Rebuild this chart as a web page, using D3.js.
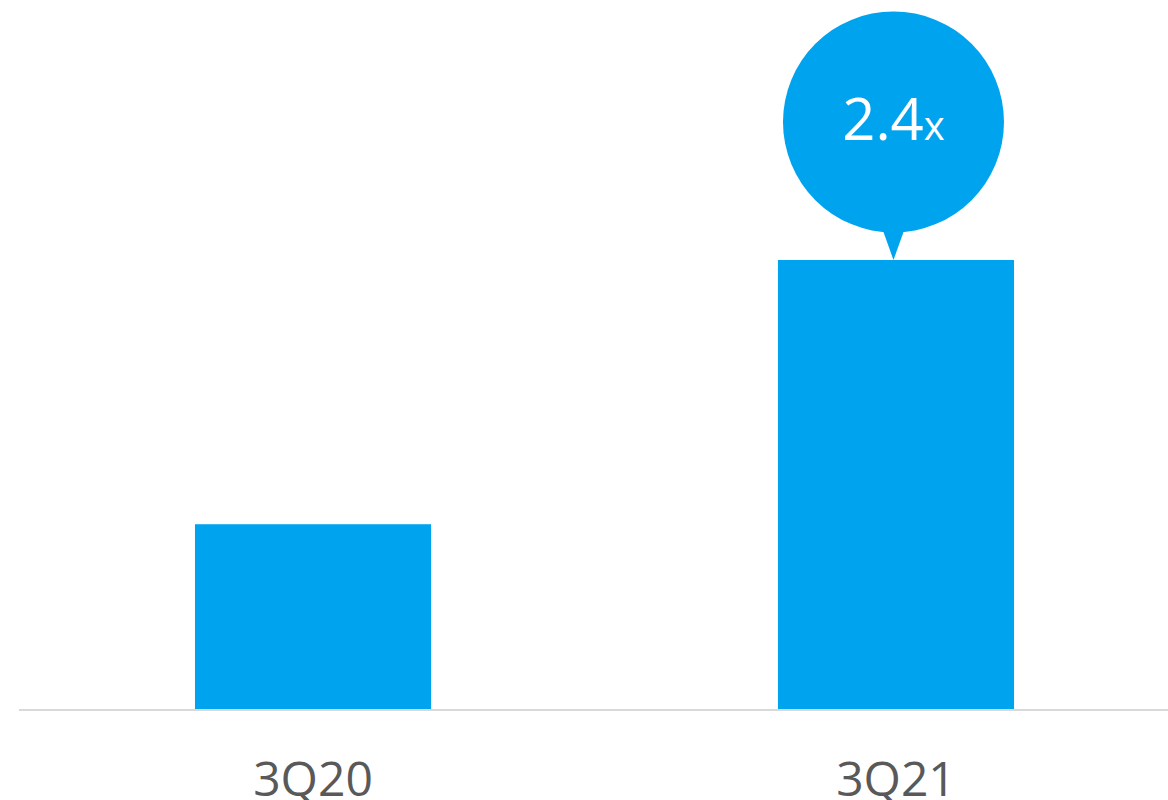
<!DOCTYPE html>
<html>
<head>
<meta charset="utf-8">
<script src="https://cdn.jsdelivr.net/npm/d3@7"></script>
<style>
  html, body { margin: 0; padding: 0; background: #ffffff; }
  svg { display: block; }
</style>
</head>
<body>
<svg id="chart" width="1168" height="800"></svg>
<script>
const categories = ["3Q20", "3Q21"];
const values = [1.0, 2.43];
const multipleLabel = "2.4";
const multipleSuffix = "x";

const W = 1168, H = 800;
const baseY = 709;
const svg = d3.select("#chart");
const blue = "#00A3EE";

const x = d3.scaleBand()
  .domain(categories)
  .range([120, 1089])
  .paddingInner(0.595)
  .paddingOuter(0.1286);

const y = d3.scaleLinear()
  .domain([0, 2.43])
  .range([baseY, 260]);

// baseline
svg.append("line")
  .attr("x1", 19).attr("x2", W)
  .attr("y1", baseY + 1).attr("y2", baseY + 1)
  .attr("stroke", "#d9d9d9").attr("stroke-width", 2);

// bars
svg.selectAll("rect.bar")
  .data(categories)
  .join("rect")
  .attr("class", "bar")
  .attr("x", d => x(d))
  .attr("width", x.bandwidth())
  .attr("y", (d, i) => y(values[i]))
  .attr("height", (d, i) => baseY - y(values[i]))
  .attr("fill", blue);

// category labels
svg.selectAll("text.cat")
  .data(categories)
  .join("text")
  .attr("class", "cat")
  .attr("x", d => x(d) + x.bandwidth() / 2)
  .attr("y", 796)
  .attr("text-anchor", "middle")
  .attr("font-family", "'Open Sans', sans-serif")
  .attr("font-size", 48)
  .attr("fill", "#595959")
  .text(d => d);

// bubble callout over last bar
const last = categories[categories.length - 1];
const cx = x(last) + x.bandwidth() / 2 - 2.5;
const topY = y(values[values.length - 1]);
const r = 110.5;
const cy = topY - 138;

const g = svg.append("g");
g.append("path")
  .attr("d", `M${cx - 12},${cy + r - 6} L${cx + 12},${cy + r - 6} L${cx},${topY} Z`)
  .attr("fill", blue);
g.append("circle")
  .attr("cx", cx).attr("cy", cy).attr("r", r)
  .attr("fill", blue);

const t = g.append("text")
  .attr("x", cx)
  .attr("y", cy + 18)
  .attr("text-anchor", "middle")
  .attr("font-family", "'Open Sans', sans-serif")
  .attr("fill", "#ffffff");
t.append("tspan").attr("font-size", 58).text(multipleLabel);
t.append("tspan").attr("font-size", 40).text(multipleSuffix);
</script>
</body>
</html>
